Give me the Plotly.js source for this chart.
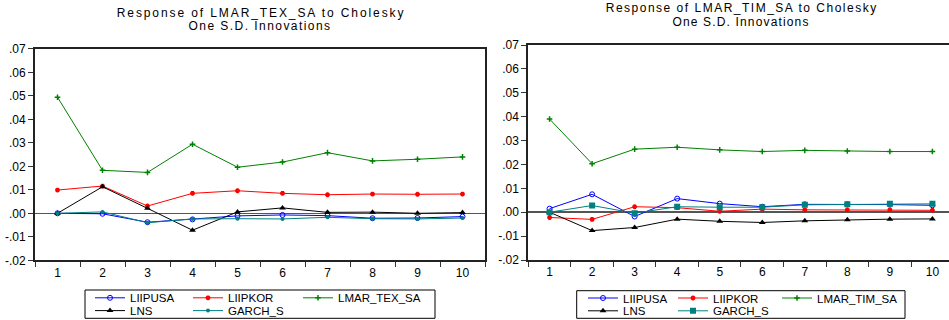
<!DOCTYPE html>
<html>
<head>
<meta charset="utf-8">
<script src="https://cdn.plot.ly/plotly-3.0.1.min.js"></script>
<style>
html, body { margin: 0; padding: 0; background: #ffffff; }
#chart { width: 949px; height: 320px; }
g.annotation[data-index="0"] text { letter-spacing: 1.9px; }
g.annotation[data-index="1"] text { letter-spacing: 1.45px; }
g.annotation[data-index="2"] text { letter-spacing: 1.5px; }
g.annotation[data-index="3"] text { letter-spacing: 1.15px; }
</style>
</head>
<body>
<div id="chart"></div>
<script>
// ---------- data ----------
const periods = ["1", "2", "3", "4", "5", "6", "7", "8", "9", "10"];
const yTickVals = [-0.02, -0.01, 0.00, 0.01, 0.02, 0.03, 0.04, 0.05, 0.06, 0.07];
const yTickText = ["-.02", "-.01", ".00", ".01", ".02", ".03", ".04", ".05", ".06", ".07"];
const seriesNames = ["LIIPUSA", "LIIPKOR", "LMAR_TEX_SA", "LNS", "GARCH_S"];
const seriesNamesTim = ["LIIPUSA", "LIIPKOR", "LMAR_TIM_SA", "LNS", "GARCH_S"];
const titleTex = ["Response of LMAR_TEX_SA to Cholesky", "One S.D. Innovations"];
const titleTim = ["Response of LMAR_TIM_SA to Cholesky", "One S.D. Innovations"];

// Response of LMAR_TEX_SA
const texLiipusa = [0.0000, -0.0002, -0.0038, -0.0026, -0.0011, -0.0007, -0.0010, -0.0021, -0.0020, -0.0014];
const texLiipkor = [0.0099, 0.0116, 0.0031, 0.0085, 0.0096, 0.0085, 0.0079, 0.0082, 0.0081, 0.0082];
const texLmar    = [0.0494, 0.0183, 0.0174, 0.0294, 0.0196, 0.0218, 0.0258, 0.0223, 0.0230, 0.0240];
const texLns     = [0.0000, 0.0113, 0.0021, -0.0072, 0.0006, 0.0023, 0.0004, 0.0005, 0.0000, 0.0003];
const texGarch   = [0.0000, 0.0006, -0.0040, -0.0024, -0.0023, -0.0024, -0.0017, -0.0023, -0.0024, -0.0020];

// Response of LMAR_TIM_SA
const timLiipusa = [0.0015, 0.0075, -0.0018, 0.0057, 0.0036, 0.0023, 0.0033, 0.0033, 0.0032, 0.0029];
const timLiipkor = [-0.0022, -0.0030, 0.0023, 0.0019, 0.0004, 0.0013, 0.0010, 0.0010, 0.0010, 0.0008];
const timLmar    = [0.0390, 0.0203, 0.0264, 0.0272, 0.0261, 0.0254, 0.0259, 0.0256, 0.0254, 0.0254];
const timLns     = [0.0000, -0.0077, -0.0064, -0.0029, -0.0038, -0.0043, -0.0036, -0.0032, -0.0029, -0.0028];
const timGarch   = [0.0000, 0.0028, -0.0004, 0.0023, 0.0021, 0.0021, 0.0031, 0.0033, 0.0035, 0.0035];

// ---------- styling ----------
const FONT = "Liberation Sans, Arial, sans-serif";
const W = 949, H = 320;
const px = v => v / W;
const py = v => 1 - v / H;

const styles = [
  { color: "#0000ff", marker: { symbol: "circle-open", size: 5, line: { width: 1 } } },
  { color: "#ff0000", marker: { symbol: "asterisk-open", size: 4, line: { width: 1.6 } } },
  { color: "#008000", marker: { symbol: "cross-thin-open", size: 4, line: { width: 1.5 } } },
  { color: "#000000", marker: { symbol: "triangle-up", size: 6, line: { width: 0 } } },
  { color: "#008080", marker: { symbol: "circle", size: 4, line: { width: 0 } } }
];
const garchRightMarker = { symbol: "square", size: 6, line: { width: 0 } };

function makeTrace(name, y, idx, xa, ya, legendId, markerOverride) {
  const s = styles[idx];
  const m = Object.assign({}, markerOverride || s.marker);
  m.color = s.color;
  m.line = Object.assign({ color: s.color }, m.line);
  return {
    type: "scatter", mode: "lines+markers",
    x: periods, y: y, name: name,
    xaxis: xa, yaxis: ya, legend: legendId,
    line: { color: s.color, width: 1 },
    marker: m,
    hoverinfo: "x+y+name"
  };
}

const texSeries = [texLiipusa, texLiipkor, texLmar, texLns, texGarch];
const timSeries = [timLiipusa, timLiipkor, timLmar, timLns, timGarch];

const data = [];
texSeries.forEach((y, i) => data.push(makeTrace(seriesNames[i], y, i, "x", "y", i === 0 ? "legend" : "legend" + (i + 1))));
timSeries.forEach((y, i) => data.push(makeTrace(seriesNamesTim[i], y, i, "x2", "y2", "legend" + (i + 6), i === 4 ? garchRightMarker : null)));

function xAxis(domain, range, anchor) {
  return {
    domain: domain, anchor: anchor, type: "category", range: range,
    tickson: "boundaries", ticks: "outside", ticklen: 5, tickwidth: 1, tickcolor: "#333",
    showline: true, linecolor: "#222", linewidth: 2, mirror: true,
    showgrid: false, zeroline: false,
    tickfont: { family: FONT, size: 12, color: "#000" },
    fixedrange: true
  };
}
function yAxis(domain, anchor) {
  return {
    domain: domain, anchor: anchor, range: [-0.02, 0.07],
    tickmode: "array", tickvals: yTickVals, ticktext: yTickText,
    ticks: "outside", ticklen: 5, tickwidth: 1, tickcolor: "#333",
    showline: true, linecolor: "#222", linewidth: 2, mirror: true,
    showgrid: false, zeroline: true, zerolinecolor: "#555", zerolinewidth: 1.5,
    tickfont: { family: FONT, size: 12, color: "#000" },
    fixedrange: true
  };
}

// legend entry positions (left edge px, centre y px)
const legendPos = [
  [90, 297.8], [188, 297.8], [298, 297.8], [90, 310.6], [188, 310.6],
  [583, 298.0], [673, 298.0], [777, 298.0], [583, 310.8], [673, 310.8]
];

const layout = {
  width: W, height: H,
  margin: { l: 0, r: 0, t: 0, b: 0, autoexpand: false },
  paper_bgcolor: "#ffffff", plot_bgcolor: "#ffffff",
  font: { family: FONT, size: 12, color: "#000" },
  showlegend: true,
  xaxis: xAxis([px(35), px(485)], [-0.5, 9.5], "y"),
  yaxis: yAxis([py(260.3), py(48.8)], "x"),
  xaxis2: xAxis([px(528.3), 1], [-0.5, 9.39], "y2"),
  yaxis2: yAxis([py(260), py(45)], "x2"),
  annotations: [
    { text: titleTex[0], x: px(261), y: py(12.5) },
    { text: titleTex[1], x: px(260.3), y: py(26.2) },
    { text: titleTim[0], x: px(741.5), y: py(7.8) },
    { text: titleTim[1], x: px(740.5), y: py(22) }
  ].map(a => Object.assign({
    xref: "paper", yref: "paper", showarrow: false,
    xanchor: "center", yanchor: "middle",
    font: { family: FONT, size: 12, color: "#000" }
  }, a)),
  shapes: [
    { type: "rect", xref: "paper", yref: "paper", x0: px(85), x1: px(435), y0: py(318.3), y1: py(290), line: { color: "#000", width: 1 }, fillcolor: "rgba(0,0,0,0)" },
    { type: "rect", xref: "paper", yref: "paper", x0: px(576.7), x1: px(905), y0: py(318.3), y1: py(290.7), line: { color: "#000", width: 1 }, fillcolor: "rgba(0,0,0,0)" }
  ]
};

legendPos.forEach((p, i) => {
  const key = i === 0 ? "legend" : "legend" + (i + 1);
  layout[key] = {
    x: px(p[0]), xanchor: "left", y: py(p[1]), yanchor: "middle",
    orientation: "h", bgcolor: "rgba(0,0,0,0)", borderwidth: 0,
    font: { family: FONT, size: 11.5, color: "#000" },
    itemwidth: 30, tracegroupgap: 0
  };
});

Plotly.newPlot("chart", data, layout, { staticPlot: true, displayModeBar: false });
</script>
</body>
</html>
